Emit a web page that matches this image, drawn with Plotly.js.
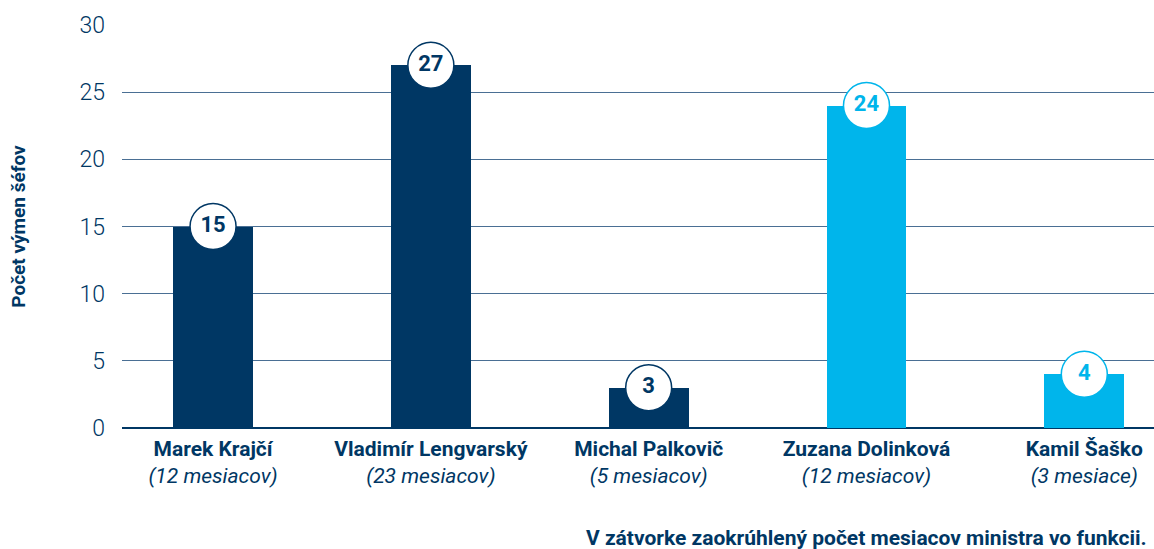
<!DOCTYPE html>
<html>
<head>
<meta charset="utf-8">
<script src="https://cdn.plot.ly/plotly-3.0.1.min.js"></script>
<style>html,body{margin:0;padding:0;background:#fff;}#chart{width:1154px;height:549px;}</style>
</head>
<body>
<div id="chart"></div>
<script>
const names = ["Marek Krajčí", "Vladimír Lengvarský", "Michal Palkovič", "Zuzana Dolinková", "Kamil Šaško"];
const months = ["(12 mesiacov)", "(23 mesiacov)", "(5 mesiacov)", "(12 mesiacov)", "(3 mesiace)"];
const values = [15, 27, 3, 24, 4];
const barColors = ["#003764", "#003764", "#003764", "#00b5eb", "#00b5eb"];
const yTicks = [0, 5, 10, 15, 20, 25, 30];

const NAVY = "#003764";
const xIdx = names.map((_, i) => i);
const tickText = names.map((n, i) => "<b>" + n + "</b><br><i>" + months[i] + "</i>");

const bars = {
  type: "bar",
  x: xIdx,
  y: values,
  width: 0.367,
  marker: {color: barColors, line: {width: 0}},
  hoverinfo: "skip"
};
const labels = {
  type: "scatter",
  mode: "markers+text",
  x: xIdx,
  y: values,
  text: values.map(String),
  textposition: "middle center",
  textfont: {family: "Roboto", size: 22, weight: 700, color: barColors},
  marker: {size: 46, color: "#ffffff", line: {color: barColors, width: 1.5}},
  cliponaxis: false,
  hoverinfo: "skip"
};

const layout = {
  width: 1154,
  height: 549,
  margin: {l: 122, r: 0, t: 25, b: 121},
  paper_bgcolor: "#ffffff",
  plot_bgcolor: "#ffffff",
  showlegend: false,
  bargap: 0,
  xaxis: {
    range: [-0.418, 4.32],
    tickvals: xIdx,
    ticktext: tickText,
    tickfont: {family: "Roboto", size: 21, color: NAVY},
    ticklabelstandoff: 6,
    showgrid: false,
    zeroline: false,
    showline: false,
    ticks: "",
    fixedrange: true
  },
  yaxis: {
    range: [0, 30],
    tickvals: yTicks,
    ticktext: yTicks.map(String),
    tickfont: {family: "Roboto", size: 23, weight: 300, color: NAVY},
    ticklabelstandoff: 16,
    showgrid: true,
    gridcolor: "#4a6f94",
    gridwidth: 1,
    zeroline: true,
    zerolinecolor: NAVY,
    zerolinewidth: 2.5,
    showline: false,
    ticks: "",
    title: {text: "<b>Počet výmen šéfov</b>", font: {family: "Roboto", size: 19, color: NAVY}, standoff: 48},
    fixedrange: true
  },
  annotations: [{
    text: "<b>V zátvorke zaokrúhlený počet mesiacov ministra vo funkcii.</b>",
    xref: "paper", yref: "paper",
    x: 0.995, y: (428 - 538) / 403,
    xanchor: "right", yanchor: "middle",
    showarrow: false,
    font: {family: "Roboto", size: 21, color: NAVY}
  }]
};

Plotly.newPlot("chart", [bars, labels], layout, {displayModeBar: false, staticPlot: true});
</script>
</body>
</html>
